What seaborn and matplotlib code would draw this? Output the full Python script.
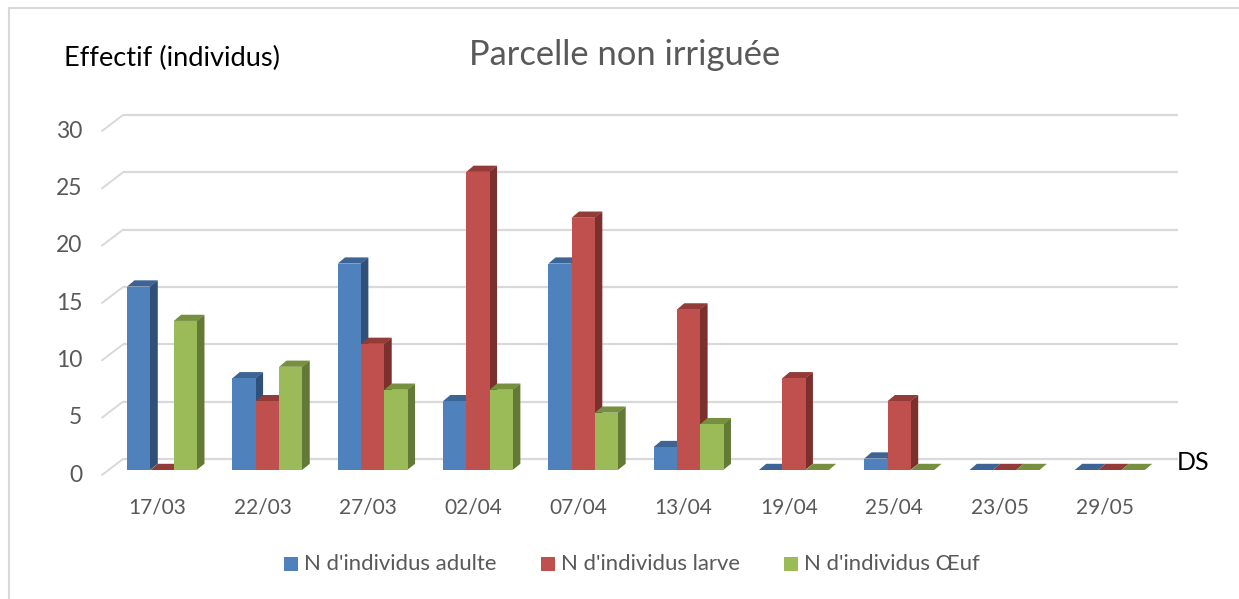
import matplotlib
matplotlib.use('Agg')
import matplotlib.pyplot as plt
import seaborn as sns
import pandas as pd
from matplotlib.lines import Line2D
from matplotlib.patches import Polygon, Rectangle

dates = ['17/03', '22/03', '27/03', '02/04', '07/04', '13/04', '19/04', '25/04', '23/05', '29/05']
adulte = [16, 8, 18, 6, 18, 2, 0, 1, 0, 0]
larve = [0, 6, 11, 26, 22, 14, 8, 6, 0, 0]
oeuf = [13, 9, 7, 7, 5, 4, 0, 0, 0, 0]
yticks = [0, 5, 10, 15, 20, 25, 30]
series_names = ["N d'individus adulte", "N d'individus larve", "N d'individus Œuf"]

front_colors = ['#4F81BD', '#C0504D', '#9BBB59']
top_colors = ['#3C6494', '#933B39', '#76903F']
side_colors = ['#2F5078', '#7B302E', '#637A36']
grid_color = '#D9D9D9'
text_color = '#595959'

W, H = 1239, 599

sns.set_theme(style='white')
plt.rcParams['font.family'] = ['Lato', 'DejaVu Sans']

df = pd.DataFrame({'date': dates * 3,
                   'serie': [n for n in series_names for _ in dates],
                   'n': adulte + larve + oeuf})

fig = plt.figure(figsize=(W / 100, H / 100), dpi=100, facecolor='white')
# axes = the plane of the front faces of the bars, in pixels from the reference
left, right, y0, y30 = 109.5, 1162.5, 470, 126
ax = fig.add_axes([left / W, 1 - y0 / H, (right - left) / W, (y0 - y30) / H])

sns.barplot(data=df, x='date', y='n', hue='serie', hue_order=series_names, order=dates,
            palette=front_colors, saturation=1, width=0.665, gap=0, dodge=True,
            errorbar=None, legend=False, ax=ax)
ax.set_xlim(-0.5, 9.5)
ax.set_ylim(0, 30)
ax.set_xlabel('')
ax.set_ylabel('')
ax.set_yticks(yticks)
ax.tick_params(length=0, labelbottom=False, labelleft=False)
sns.despine(ax=ax, left=True, bottom=True)
ax.patch.set_alpha(0)

px = 1 / 105.3
py = 30 / 344

# bars get a depth: side and top faces drawn from each front rectangle
dx, dy = 7.3 * px, 6.2 * py
for i, cont in enumerate(ax.containers):
    for bar in cont:
        x, w, h = bar.get_x(), bar.get_width(), bar.get_height()
        z = 3 + i * 0.2
        bar.set_zorder(z + 0.1)
        bar.set_edgecolor('none')
        bar.set_clip_on(False)
        if h > 0:
            # half a pixel of overlap under the front face, no white seam
            ax.add_patch(Polygon([(x + w - 0.5 * px, 0), (x + w + dx, dy), (x + w + dx, h + dy),
                                  (x + w - 0.5 * px, h)],
                                 fc=side_colors[i], ec='none', zorder=z, clip_on=False))
        ax.add_patch(Polygon([(x, h), (x + dx, h + dy), (x + w + dx, h + dy), (x + w, h)],
                             fc=top_colors[i], ec='none', zorder=z, clip_on=False))

# gridlines on the back wall and the short ticks going to the front
for v in yticks:
    back = v + 11 * py
    ax.plot([-0.5 + 13.5 * px, 9.5 + 15.5 * px], [back, back], color=grid_color, lw=1.6,
            zorder=1, clip_on=False, solid_capstyle='butt')
    ax.plot([-0.5 - 7.5 * px, -0.5 + 13.5 * px], [v - 5 * py, back], color=grid_color, lw=1.4,
            zorder=1, clip_on=False)
    ax.text(-0.5 - 27 * px, v - 5 * py, str(v), ha='right', va='center', fontsize=16.5,
            color=text_color)

for j, d in enumerate(dates):
    ax.text(j - 5 * px, -37 * py, d, ha='center', va='center', fontsize=15, color=text_color)

# figure texts
fig.text(624.5 / W, 1 - 55 / H, 'Parcelle non irriguée', ha='center', va='center',
         fontsize=24.8, color=text_color)
fig.text(64 / W, 1 - 58 / H, 'Effectif (individus)', ha='left', va='center',
         fontsize=19.6, color='black')
fig.text(1177 / W, 1 - 462 / H, 'DS', ha='left', va='center', fontsize=18, color='black')

# legend
leg_sq = [284, 541, 784]
leg_txt = [304, 561, 804]
for xs, xt, c, n in zip(leg_sq, leg_txt, front_colors, series_names):
    fig.add_artist(Rectangle((xs / W, 1 - 571 / H), 14 / W, 14 / H, transform=fig.transFigure,
                             fc=c, ec='none'))
    fig.text(xt / W, 1 - 564 / H, n, ha='left', va='center', fontsize=15.9, color=text_color)

# outer frame, only top and left are visible
fig.add_artist(Line2D([8.5 / W, 1], [1 - 8 / H, 1 - 8 / H], transform=fig.transFigure,
                      color=grid_color, lw=1.5))
fig.add_artist(Line2D([8.5 / W, 8.5 / W], [0, 1 - 8 / H], transform=fig.transFigure,
                      color=grid_color, lw=1.5))

fig.savefig('out.png', dpi=100)
